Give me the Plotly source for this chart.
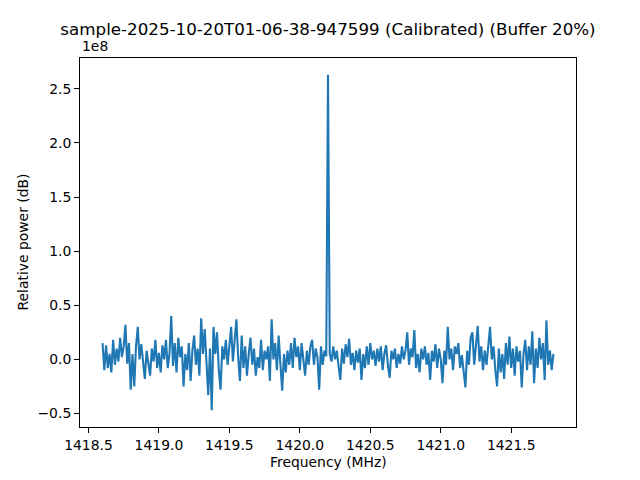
import numpy as np
import plotly.graph_objects as go

# Frequency bins (MHz): uniformly spaced from start to stop
f_start = 1418.6
f_stop = 1421.8

# Relative power in units of 1e8
power_1e8 = [
    0.15, -0.10, 0.13, -0.08, 0.05, -0.12, 0.18, -0.05, 0.10, -0.02, 0.20, 0.02, 0.12, 0.32, -0.04, 0.15,
    -0.28, 0.05, -0.25, 0.12, 0.30, 0.00, 0.14, -0.06, -0.18, 0.08, -0.05, -0.15, 0.10, -0.02, 0.18, -0.08,
    0.06, -0.12, 0.13, 0.00, 0.18, -0.08, 0.05, 0.40, -0.06, 0.15, -0.12, 0.20, 0.02, 0.12, -0.25, 0.05,
    -0.10, 0.15, -0.20, 0.08, 0.22, -0.05, 0.10, -0.15, 0.38, 0.05, 0.28, -0.05, -0.33, 0.10, -0.47, 0.30,
    0.05, 0.25, -0.10, -0.28, 0.12, 0.00, 0.18, -0.05, 0.10, 0.30, -0.02, 0.15, 0.37, 0.02, -0.20, 0.22,
    -0.08, 0.12, -0.15, 0.05, 0.20, -0.05, 0.10, -0.15, 0.02, -0.08, 0.18, -0.10, 0.08, 0.00, 0.12, -0.20,
    0.37, 0.00, 0.15, -0.10, 0.22, -0.05, -0.29, 0.05, -0.12, 0.08, -0.05, 0.15, -0.08, 0.20, 0.02, 0.12,
    -0.10, 0.15, 0.00, -0.15, 0.08, -0.05, 0.12, 0.18, -0.05, 0.10, 0.02, -0.28, 0.12, -0.05, 0.08, 0.03,
    2.63,
    0.05, -0.02, 0.12, 0.00, 0.08, -0.06, -0.19, 0.10, -0.04, 0.14, 0.02, 0.19, -0.05, 0.06, -0.10, 0.08,
    -0.03, 0.10, -0.19, 0.05, -0.08, 0.12, -0.05, 0.15, 0.00, 0.08, -0.06, 0.10, -0.02, 0.12, -0.10, 0.05,
    0.13, -0.05, -0.17, 0.08, 0.00, 0.10, -0.08, 0.05, -0.04, 0.12, 0.00, 0.08, 0.25, -0.05, 0.10, 0.02,
    0.27, -0.08, 0.05, -0.12, 0.10, 0.00, 0.12, -0.05, 0.06, -0.19, 0.08, -0.02, 0.14, -0.08, 0.10, 0.00,
    -0.22, 0.08, -0.05, 0.30, 0.00, 0.10, -0.10, 0.12, 0.05, 0.15, -0.08, 0.04, -0.15, -0.26, 0.08, -0.05,
    0.20, 0.25, -0.05, 0.10, 0.31, -0.02, 0.12, -0.10, 0.08, -0.05, 0.15, 0.30, 0.00, 0.12, -0.10, -0.25,
    0.10, -0.12, 0.05, -0.18, 0.15, -0.05, 0.21, -0.08, 0.10, -0.15, 0.12, -0.02, 0.08, -0.26, 0.05, 0.18,
    -0.10, 0.12, -0.05, 0.26, -0.22, 0.10, -0.08, 0.20, 0.00, 0.15, -0.19, 0.36, -0.05, 0.08, -0.10, 0.05,
]

freq = np.linspace(f_start, f_stop, len(power_1e8))

x_ticks = [1418.5, 1419.0, 1419.5, 1420.0, 1420.5, 1421.0, 1421.5]
y_ticks = [-0.5, 0.0, 0.5, 1.0, 1.5, 2.0, 2.5]

title_text = "sample-2025-10-20T01-06-38-947599 (Calibrated) (Buffer 20%)"
x_label = "Frequency (MHz)"
y_label = "Relative power (dB)"

FONT = "DejaVu Sans"

fig = go.Figure()
fig.add_trace(go.Scatter(
    x=freq, y=power_1e8, mode="lines",
    line=dict(color="#1f77b4", width=2.1),
    showlegend=False,
))

axis_common = dict(
    showgrid=False, zeroline=False,
    showline=True, mirror=True, linecolor="black", linewidth=1,
    ticks="outside", ticklen=5, tickwidth=1, tickcolor="black",
    tickfont=dict(family=FONT, size=13.9, color="black"),
)

fig.update_xaxes(range=[1418.44, 1421.96], tickvals=x_ticks, tickformat=".1f", **axis_common)
fig.update_yaxes(range=[-0.625, 2.785], tickvals=y_ticks, tickformat=".1f", **axis_common)

# the page body adds an 8 px margin, so the figure is 8 px smaller and offsets shift
W, H = 632, 472
L, R, T, B = 72, 64, 50, 53
pw, ph = W - L - R, H - T - B

fig.update_layout(
    width=W, height=H,
    margin=dict(l=L, r=R, t=T, b=B, pad=0),
    plot_bgcolor="white", paper_bgcolor="white",
    font=dict(family=FONT, color="black"),
    title=dict(text=title_text, x=0.5, xref="paper", xanchor="center",
               y=1 - 21 / H, yref="container", yanchor="middle",
               font=dict(family=FONT, size=16.7, color="black")),
    annotations=[
        dict(text="1e8", xref="paper", yref="paper", x=0, y=1 + 2 / ph,
             xanchor="left", yanchor="bottom", showarrow=False,
             font=dict(family=FONT, size=13.9, color="black")),
        dict(text=x_label, xref="paper", yref="paper", x=0.5, y=-35 / ph,
             xanchor="center", yanchor="middle", showarrow=False,
             font=dict(family=FONT, size=13.9, color="black")),
        dict(text=y_label, xref="paper", yref="paper", x=-58 / pw, y=0.5,
             xanchor="center", yanchor="middle", showarrow=False, textangle=-90,
             font=dict(family=FONT, size=13.9, color="black")),
    ],
)

fig.write_html("out.html")
